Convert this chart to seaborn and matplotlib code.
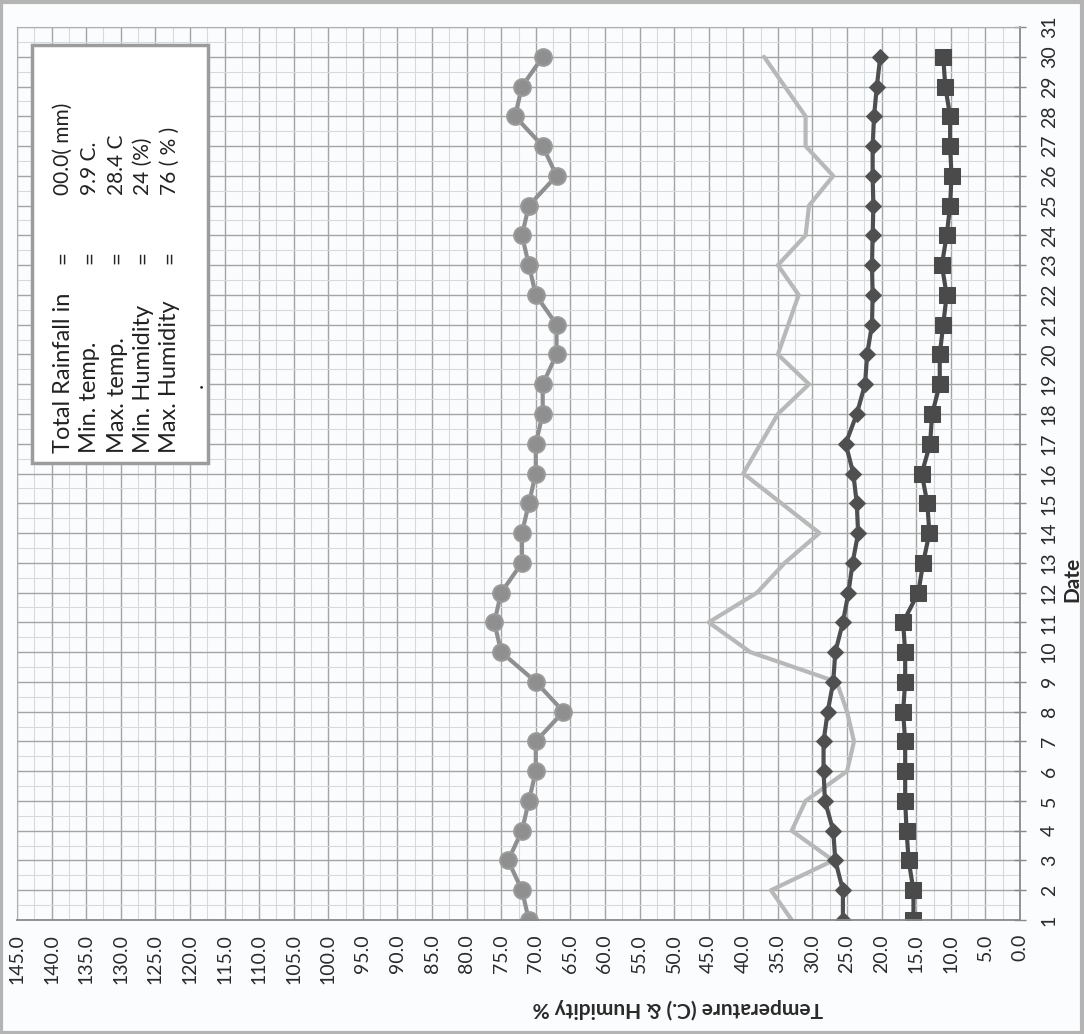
import matplotlib
matplotlib.use("Agg")
import matplotlib.pyplot as plt
from matplotlib.ticker import MultipleLocator
from matplotlib.patches import Rectangle
import seaborn as sns

dates = list(range(1, 31))
max_humidity = [71, 72, 74, 72, 71, 70, 70, 66, 70, 75, 76, 75, 72, 72, 71,
                70, 70, 69, 69, 67, 67, 70, 71, 72, 71, 67, 69, 73, 72, 69]
min_humidity = [33, 36, 27, 33, 31, 25, 24, 25, 26.5, 39, 45, 38, 34, 29, 34.5,
                40, 37.5, 35, 30.5, 35, 33.5, 32, 35, 31, 30.5, 27, 31, 31, 34, 37]
max_temp = [25.6, 25.6, 26.7, 27.0, 28.2, 28.4, 28.4, 27.8, 27.0, 26.7, 25.6, 24.8,
            24.2, 23.4, 23.6, 24.1, 25.2, 23.6, 22.4, 22.1, 21.4, 21.3, 21.4, 21.3,
            21.2, 21.3, 21.3, 21.1, 20.7, 20.2]
min_temp = [15.4, 15.4, 16.1, 16.4, 16.6, 16.6, 16.6, 16.9, 16.6, 16.6, 16.9, 14.7,
            14.0, 13.1, 13.4, 14.2, 13.0, 12.7, 11.6, 11.6, 11.1, 10.6, 11.3, 10.6,
            10.1, 9.9, 10.1, 10.1, 10.8, 11.1]

value_ticks = [v * 5 for v in range(30)]
date_ticks = list(range(1, 32))

box_labels = ["Total Rainfall in", "Min. temp.", "Max. temp.", "Min. Humidity", "Max. Humidity"]
box_values = ["00.0( mm)", "9.9 C.", "28.4 C", "24 (%)", "76 ( % )"]

sns.set_style("white")
plt.rcParams["font.family"] = ["Lato", "DejaVu Sans"]

W, H = 1084, 1034
fig = plt.figure(figsize=(W / 100, H / 100), dpi=100, facecolor="#fbfcfd")
ax = fig.add_axes([17 / W, 1 - 920 / H, (1020 - 17) / W, (920 - 27) / H])
ax.set_facecolor("#fbfcfd")

# series
sns.lineplot(x=max_humidity, y=dates, orient="y", ax=ax, color="#8f8f8f",
             linewidth=3, marker="o", markersize=12, markeredgecolor="#9a9a9a",
             markeredgewidth=1.5)
sns.lineplot(x=min_humidity, y=dates, orient="y", ax=ax, color="#b8b8b8",
             linewidth=3)
sns.lineplot(x=max_temp, y=dates, orient="y", ax=ax, color="#4f4f4f",
             linewidth=3, marker="D", markersize=8.5, markeredgecolor="#555555")
sns.lineplot(x=min_temp, y=dates, orient="y", ax=ax, color="#4a4a4a",
             linewidth=3, marker="s", markersize=11, markeredgecolor="#4a4a4a")

ax.set_xlim(145, 0)
ax.set_ylim(1, 31)
ax.set_xticks(value_ticks)
ax.set_xticklabels([f"{v:.1f}" for v in value_ticks], rotation=90)
ax.set_yticks(date_ticks)
ax.set_yticklabels([str(d) for d in date_ticks], rotation=90, va="center")
ax.xaxis.set_minor_locator(MultipleLocator(2.5))
ax.yaxis.set_minor_locator(MultipleLocator(0.5))
ax.yaxis.tick_right()
ax.set_xlabel("")
ax.set_ylabel("")

ax.set_axisbelow(True)
ax.grid(which="major", color="#a4a4a4", linewidth=1.0)
ax.grid(which="minor", color="#d6d9de", linewidth=0.8)

ax.tick_params(axis="x", which="major", direction="inout", length=8, width=1,
               color="#888888", labelsize=14, labelcolor="#2a2a2a", pad=6)
ax.tick_params(axis="y", which="major", direction="inout", length=8, width=1,
               color="#888888", labelsize=14, labelcolor="#2a2a2a", pad=11,
               right=True, left=False)
ax.tick_params(which="minor", length=0)
for side in ["top", "left"]:
    ax.spines[side].set_color("#b0b0b0")
for side in ["bottom", "right"]:
    ax.spines[side].set_color("#8a8a8a")
    ax.spines[side].set_linewidth(1.3)

# axis titles (rotated like the scanned page)
fig.text(678 / W, 1 - 1008 / H, "Temperature (C.) & Humidity %", rotation=180,
         ha="center", va="center", fontsize=15, fontweight="bold", color="#2a2a2a")
fig.text(1072 / W, 1 - 579 / H, "Date", rotation=90, ha="center", va="center",
         fontsize=15, fontweight="bold", color="#2a2a2a")

# summary text box
fig.patches.append(Rectangle((32 / W, 1 - 463 / H), 176 / W, 418 / H,
                             transform=fig.transFigure, facecolor="white",
                             edgecolor="#9c9c9c", linewidth=2.5, zorder=5))
line_x = [63, 90, 117, 143, 170]
for lx, lab, val in zip(line_x, box_labels, box_values):
    fig.text(lx / W, 1 - 453 / H, lab, rotation=90, rotation_mode="anchor",
             ha="left", va="center", fontsize=17, color="#222222", zorder=6)
    fig.text(lx / W, 1 - 258 / H, "=", rotation=90, rotation_mode="anchor",
             ha="center", va="center", fontsize=16, color="#222222", zorder=6)
    fig.text(lx / W, 1 - 195 / H, val, rotation=90, rotation_mode="anchor",
             ha="left", va="center", fontsize=15, color="#222222", zorder=6)
fig.text(197 / W, 1 - 388 / H, ".", rotation=90, rotation_mode="anchor",
         ha="left", va="center", fontsize=16, color="#222222", zorder=6)

# outer border of the chart area
fig.patches.append(Rectangle((0.001, 0.001), 0.997, 0.997, transform=fig.transFigure,
                             fill=False, edgecolor="#b4b4b4", linewidth=3))

fig.savefig("out.png", dpi=100, facecolor=fig.get_facecolor())
